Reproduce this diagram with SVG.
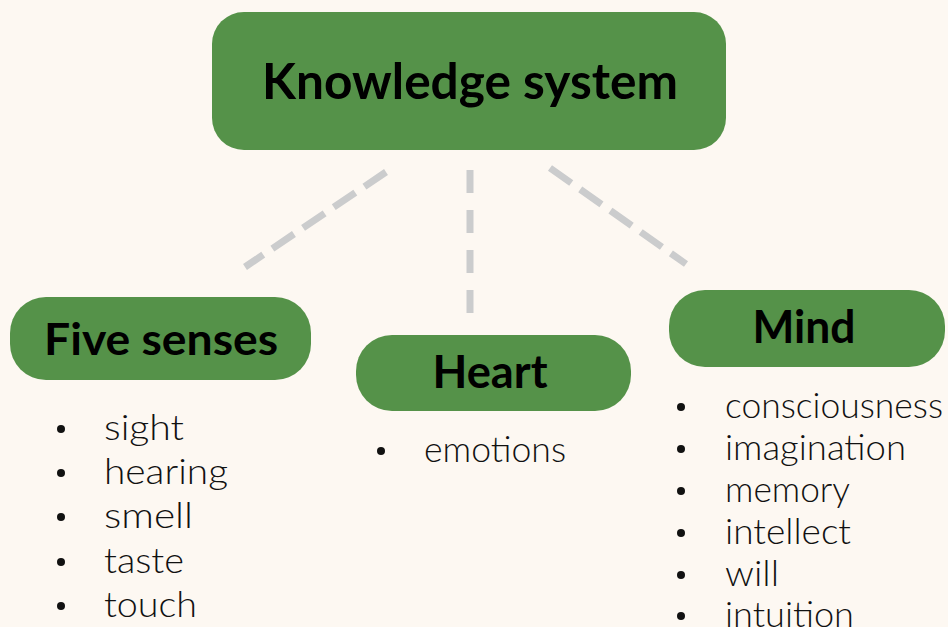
<svg xmlns="http://www.w3.org/2000/svg" width="948" height="627" viewBox="0 0 948 627">
  <style>
    .box { fill: #559249; }
    .title { font-family: Lato, "Liberation Sans", sans-serif; font-weight: bold; fill: #000; text-anchor: middle; }
    .item { font-family: Lato, "Liberation Sans", sans-serif; font-weight: 300; font-size: 35px; fill: #111; }
    .dot { fill: #111; }
    .link { stroke: #cbcccd; stroke-width: 7; fill: none; }
    .diag { stroke-dasharray: 26 11; }
    .vert { stroke-dasharray: 23 17; }
  </style>
  <rect width="948" height="627" fill="#fdf8f2"/>

  <g id="connectors">
    <line class="link diag" x1="386" y1="172" x2="245" y2="267"/>
    <line class="link vert" x1="470" y1="170" x2="470" y2="313"/>
    <line class="link diag" x1="550" y1="168" x2="686" y2="264"/>
  </g>

  <g id="knowledge-system">
    <rect class="box" x="212" y="12" width="514" height="138" rx="32"/>
    <text class="title" x="470" y="99" font-size="50" textLength="416" lengthAdjust="spacingAndGlyphs">Knowledge system</text>
  </g>

  <g id="five-senses">
    <rect class="box" x="10" y="297" width="301" height="83" rx="36"/>
    <text class="title" x="161" y="355" font-size="44" textLength="234" lengthAdjust="spacingAndGlyphs">Five senses</text>
    <circle class="dot" cx="61" cy="429" r="4"/><text class="item" x="104" y="440" textLength="80" lengthAdjust="spacingAndGlyphs">sight</text>
    <circle class="dot" cx="61" cy="473" r="4"/><text class="item" x="104" y="484" textLength="124" lengthAdjust="spacingAndGlyphs">hearing</text>
    <circle class="dot" cx="61" cy="517" r="4"/><text class="item" x="104" y="528" textLength="89" lengthAdjust="spacingAndGlyphs">smell</text>
    <circle class="dot" cx="61" cy="562" r="4"/><text class="item" x="104" y="573" textLength="80" lengthAdjust="spacingAndGlyphs">taste</text>
    <circle class="dot" cx="61" cy="606" r="4"/><text class="item" x="104" y="617" textLength="93" lengthAdjust="spacingAndGlyphs">touch</text>
  </g>

  <g id="heart">
    <rect class="box" x="356" y="335" width="275" height="76" rx="36"/>
    <text class="title" x="490" y="388" font-size="45" textLength="115" lengthAdjust="spacingAndGlyphs">Heart</text>
    <circle class="dot" cx="381" cy="451" r="4"/><text class="item" x="424" y="462" textLength="142" lengthAdjust="spacingAndGlyphs">emotions</text>
  </g>

  <g id="mind">
    <rect class="box" x="669" y="290" width="276" height="77" rx="36"/>
    <text class="title" x="804" y="343" font-size="45" textLength="103" lengthAdjust="spacingAndGlyphs">Mind</text>
    <circle class="dot" cx="681" cy="407" r="4"/><text class="item" x="725" y="418" textLength="218" lengthAdjust="spacingAndGlyphs">consciousness</text>
    <circle class="dot" cx="681" cy="449" r="4"/><text class="item" x="725" y="460" textLength="181" lengthAdjust="spacingAndGlyphs">imagination</text>
    <circle class="dot" cx="681" cy="491" r="4"/><text class="item" x="725" y="502" textLength="125" lengthAdjust="spacingAndGlyphs">memory</text>
    <circle class="dot" cx="681" cy="533" r="4"/><text class="item" x="725" y="544" textLength="126" lengthAdjust="spacingAndGlyphs">intellect</text>
    <circle class="dot" cx="681" cy="575" r="4"/><text class="item" x="725" y="586" textLength="54" lengthAdjust="spacingAndGlyphs">will</text>
    <circle class="dot" cx="681" cy="616" r="4"/><text class="item" x="725" y="627" textLength="129" lengthAdjust="spacingAndGlyphs">intuition</text>
  </g>
</svg>
